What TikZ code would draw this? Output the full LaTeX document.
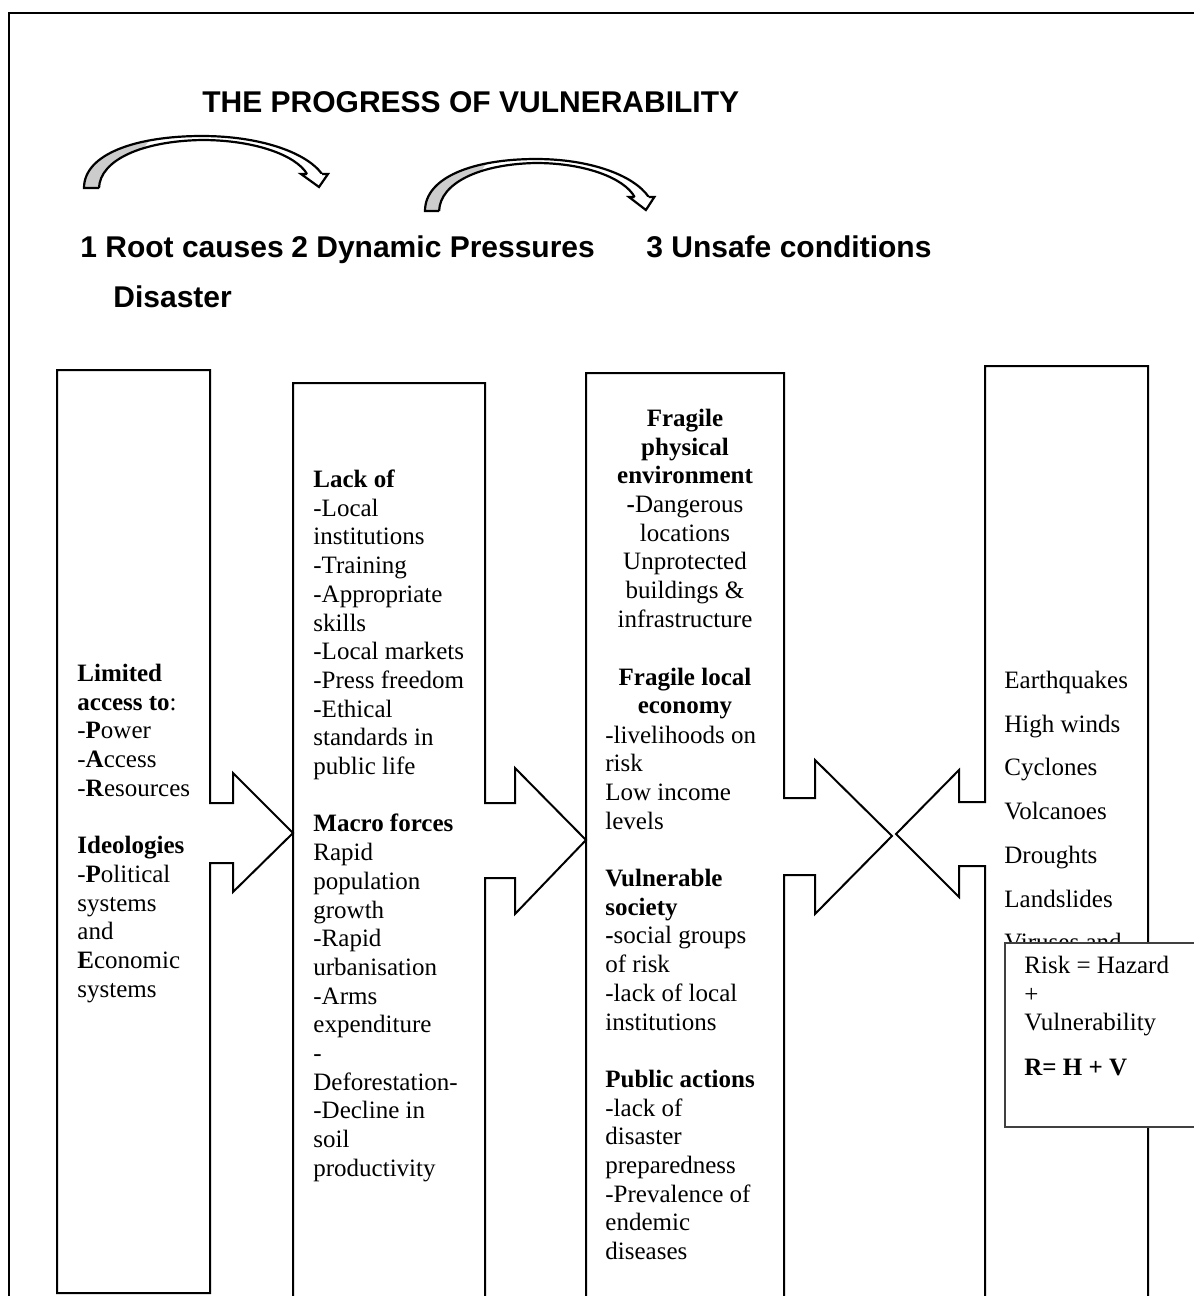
\documentclass[tikz,border=0pt]{standalone}
\usepackage{fontspec}
\setmainfont{Liberation Serif}
\newfontfamily\headfont{Liberation Sans}
\newcommand{\vulnband}{(0,0) .. controls (0,-34) and (52,-52) .. (118,-52)
  .. controls (175,-52) and (222,-36) .. (238,-14) -- (223,-14)
  .. controls (212,-33) and (170,-48) .. (118,-48)
  .. controls (58,-47) and (16,-28) .. (15,0) -- cycle}
\tikzset{
  box/.style={line width=1pt, line join=miter},
  txt/.style={anchor=north west, inner sep=0pt, align=left,
    font=\fontsize{12.5}{14.35}\selectfont},
  ctxt/.style={txt, anchor=north, align=center},
  head/.style={anchor=base west, inner sep=0pt,
    font=\headfont\bfseries\fontsize{15}{18}\selectfont},
  progarrow/.pic={
    \fill[white] \vulnband;
    \begin{scope}
      \clip (-5,5) -- (25,5) -- (75,-60) -- (-5,-60) -- cycle;
      \fill[black!20] \vulnband;
    \end{scope}
    \draw[line width=1.1pt] (15,0) -- (0,0) .. controls (0,-34) and (52,-52) .. (118,-52)
      .. controls (175,-52) and (222,-36) .. (238,-14);
    \draw[line width=1.1pt] (15,0) .. controls (16,-28) and (58,-47) .. (118,-48)
      .. controls (170,-48) and (212,-33) .. (223,-14);
    \draw[line width=1.1pt, fill=white, line join=miter]
      (223,-14) -- (217,-14) -- (235,-1) -- (244,-14) -- (238,-14);
  }
}
\begin{document}
\begin{tikzpicture}[x=0.5pt, y=-0.5pt]
  \useasboundingbox (0,0) rectangle (1194,1296);
  \clip (0,0) rectangle (1194,1296);
  \draw[line width=1pt] (9,1300) -- (9,13) -- (1200,13);

  \node[head] (title) at (202,112) {THE PROGRESS OF VULNERABILITY};
  \pic at (84,188) {progarrow};
  \pic[xscale=0.94] at (425,211) {progarrow};
  \node[head] (root) at (80,257) {1 Root causes};
  \node[head] (dyn) at (291,257) {2 Dynamic Pressures};
  \node[head] (unsafe) at (646,257) {3 Unsafe conditions};
  \node[head] (disaster) at (113,307) {Disaster};

  \draw[box] (57,370) -- (210,370) -- (210,803) -- (233,803) -- (233,773)
    -- (293,833) -- (233,892) -- (233,863) -- (210,863) -- (210,1293)
    -- (57,1293) -- cycle;
  \draw[box] (293,1300) -- (293,383) -- (485,383) -- (485,803) -- (515,803)
    -- (515,768) -- (586,840) -- (515,914) -- (515,878) -- (485,878) -- (485,1300);
  \draw[box] (586,1300) -- (586,373) -- (784,373) -- (784,798) -- (815,798)
    -- (815,760) -- (892,836) -- (815,914) -- (815,875) -- (784,875) -- (784,1300);
  \draw[box] (1148,1300) -- (1148,366) -- (985,366) -- (985,802) -- (959,802)
    -- (959,770) -- (896,834) -- (959,897) -- (959,866) -- (985,866) -- (985,1300);

  \node[txt] (access) at (77,661) {\strut\textbf{Limited}\\ \textbf{access to}:\\
    -\textbf{P}ower\\ -\textbf{A}ccess\\ -\textbf{R}esources\\[14.35pt]
    \textbf{Ideologies}\\ -\textbf{P}olitical\\ systems\\ and\\
    \textbf{E}conomic\\ systems};
  \node[txt] (lack) at (313,467) {\strut\textbf{Lack of}\\ -Local\\ institutions\\
    -Training\\ -Appropriate\\ skills\\ -Local markets\\ -Press freedom\\
    -Ethical\\ standards in\\ public life\\[14.35pt]
    \textbf{Macro forces}\\ Rapid\\ population\\ growth\\ -Rapid\\
    urbanisation\\ -Arms\\ expenditure\\ -\\ Deforestation-\\
    -Decline in\\ soil\\ productivity};
  \node[ctxt] (env) at (685,406) {\strut\textbf{Fragile}\\ \textbf{physical}\\
    \textbf{environment}\\ \textbf{-}Dangerous\\ locations\\ Unprotected\\
    buildings \&\\ infrastructure};
  \node[ctxt] (econ) at (685,664.5) {\strut\textbf{Fragile local}\\ \textbf{economy}};
  \node[txt] (society) at (605,722.5) {\strut-livelihoods on\\ risk\\ Low income\\
    levels\\[14.35pt] \textbf{Vulnerable}\\ \textbf{society}\\
    \textbf{-}social groups\\ of risk\\ -lack of local\\ institutions\\[14.35pt]
    \textbf{Public actions}\\ -lack of\\ disaster\\ preparedness\\
    -Prevalence of\\ endemic\\ diseases};
  \node[txt] (hazards) at (1004,668) {\strut Earthquakes\\[7.5pt] High winds\\[7.5pt]
    Cyclones\\[7.5pt] Volcanoes\\[7.5pt] Droughts\\[7.5pt] Landslides\\[7.5pt]
    Viruses and};

  \draw[line width=0.6pt, black!75, fill=white] (1005,943) rectangle (1200,1127);
  \node[txt] (risk) at (1024,953) {\strut Risk = Hazard\\ +\\ Vulnerability\\[8pt]
    \textbf{R= H + V}};
\end{tikzpicture}
\end{document}
